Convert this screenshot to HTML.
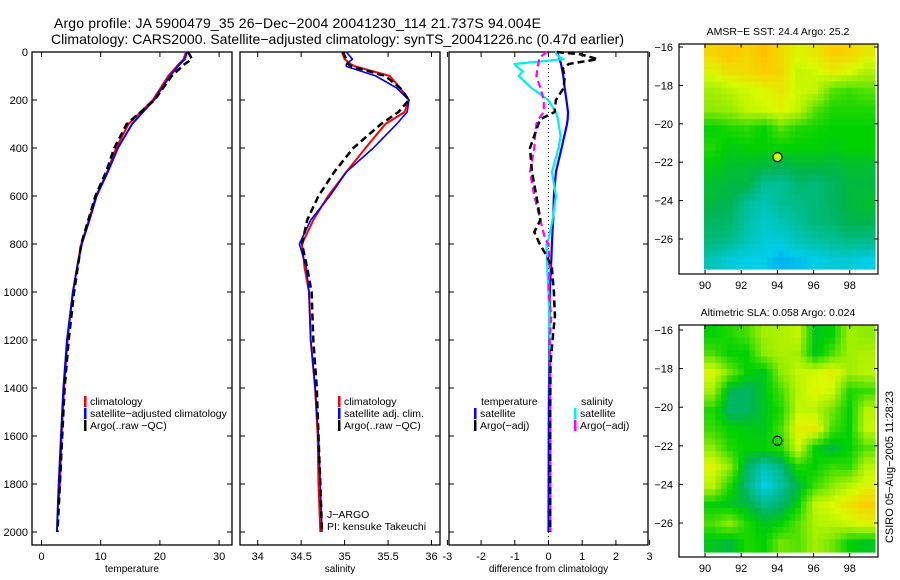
<!DOCTYPE html>
<html><head><meta charset="utf-8">
<style>
body{margin:0;background:#fff;}
svg{display:block;font-family:"Liberation Sans",sans-serif;}
</style></head>
<body>
<svg id="chart" width="900" height="580" viewBox="0 0 900 580">
<text x="54" y="28" font-size="14" textLength="487">Argo profile: JA 5900479_35 26−Dec−2004 20041230_114 21.737S 94.004E</text>
<text x="51" y="44" font-size="14" textLength="573">Climatology: CARS2000. Satellite−adjusted climatology: synTS_20041226.nc (0.47d earlier)</text>
<g id="panels"></g>
<g id="maps"></g>
<text transform="translate(893,467) rotate(-90)" font-size="11" text-anchor="middle">CSIRO 05−Aug−2005 11:28:23</text>
</svg>
<script>
// ---------- profile data ----------
const depthTicks=[0,200,400,600,800,1000,1200,1400,1600,1800,2000];
const tempTicks=[0,10,20,30];
const salTicks=[34,34.5,35,35.5,36];
const salTickLabels=["34","34.5","35","35.5","36"];
const diffTicks=[-3,-2,-1,0,1,2,3];

const tDepth=[0,30,50,100,200,300,400,500,600,700,800,900,1000,1200,1400,1600,1800,1870];
const tClim=[24.4,24.0,23.2,21.4,18.8,14.7,12.6,11.1,9.2,8.0,6.7,6.0,5.3,4.4,3.8,3.4,3.1,2.9];
const tSatDepth=[0,30,50,100,200,300,400,500,600,700,800,900,1000,1200,1400,1600,1800,2000];
const tSat=[24.6,24.2,23.4,21.7,19.0,15.3,12.9,11.2,9.3,8.1,6.8,6.0,5.3,4.3,3.7,3.3,2.9,2.6];
const tArgo=[24.8,25.4,24.2,22.0,19.1,14.4,12.3,10.9,9.1,7.9,6.7,6.1,5.5,4.6,3.9,3.5,3.1,2.7];

const sDepth=[0,30,50,60,100,150,200,250,300,400,500,600,700,800,900,1000,1200,1400,1600,1800,2000];
const sClim=[34.97,35.0,35.07,35.12,35.52,35.64,35.74,35.69,35.47,35.24,35.02,34.81,34.64,34.51,34.54,34.59,34.61,34.66,34.69,34.70,34.72];
const sSat=[35.02,35.09,35.02,35.02,35.36,35.60,35.74,35.72,35.60,35.33,35.02,34.83,34.61,34.48,34.56,34.59,34.61,34.66,34.70,34.72,34.74];
const sArgo=[34.98,35.02,35.04,35.08,35.47,35.64,35.74,35.62,35.42,35.10,34.88,34.70,34.57,34.51,34.57,34.62,34.64,34.68,34.70,34.72,34.74];

const dtDepth=[0,10,30,50,70,100,150,200,250,280,300,400,500,600,700,750,800,850,900,1000,1100,1200,1300,1500,2000];
const dtSat=[0.22,0.28,0.33,0.37,0.40,0.44,0.48,0.53,0.58,0.57,0.55,0.39,0.22,0.16,0.14,0.12,0.10,0.09,0.07,0.04,0.03,0.02,0.02,0.01,0.0];
const dtArgo=[0.25,0.96,1.46,0.60,0.42,0.48,0.45,0.22,0.18,-0.24,-0.30,-0.55,-0.49,-0.36,-0.24,-0.42,-0.26,-0.05,0.10,0.16,0.19,0.12,0.06,0.05,0.05];
const dsDepth=[0,20,30,50,60,80,100,150,200,250,280,300,350,400,500,600,700,780,800,900,1000,1100,1200,1500,2000];
const dsSat=[0.2,0.3,0.45,-1.01,-0.95,-0.76,-0.88,-0.5,-0.01,0.22,0.28,0.30,0.36,0.30,0.10,0.22,0.12,0.0,-0.06,-0.04,0.0,0.02,0.03,0.05,0.05];
const dsArgo=[-0.05,-0.24,-0.28,-0.30,-0.32,-0.34,-0.36,-0.24,-0.14,-0.14,-0.30,-0.36,-0.40,-0.42,-0.55,-0.42,-0.24,-0.10,0.0,0.04,0.0,0.08,0.04,0.05,0.05];

// ---------- map data (colour index 0..5) ----------
const sstGrid=[
[4.3,4.5,4.3,4.6,4.2,3.8,4.0,4.4,4.3,4.0],
[3.8,4.1,4.2,4.4,4.3,3.5,3.6,3.9,3.7,3.3],
[3.2,3.4,3.6,3.8,4.0,3.6,3.5,2.6,2.4,2.6],
[3.0,3.1,3.5,3.6,3.8,3.5,2.6,2.2,2.2,2.2],
[2.0,2.2,2.3,2.0,2.6,2.2,2.1,2.0,2.0,2.0],
[2.2,1.9,2.0,2.0,2.0,2.0,2.0,1.9,2.0,2.0],
[1.9,1.7,1.7,1.6,1.5,1.6,1.6,1.6,1.7,1.7],
[1.7,1.6,1.6,1.0,1.0,1.3,1.2,1.4,1.6,1.6],
[1.6,1.5,1.0,0.8,1.0,1.1,1.2,1.4,1.6,1.7],
[1.4,1.3,0.9,0.7,0.8,1.0,1.2,1.3,1.5,1.5],
[1.2,1.1,0.8,0.6,0.6,0.8,0.9,1.0,1.1,1.1],
[0.8,0.6,0.5,0.5,0.3,0.4,0.5,0.6,0.6,0.5]];
const slaGrid=[
[2.0,2.2,2.5,3.2,3.3,3.5,1.8,2.0,3.2,3.0],
[2.5,2.0,2.0,3.0,3.3,3.2,1.8,2.5,3.2,3.3],
[3.8,2.8,2.0,1.8,3.0,3.5,3.6,3.9,3.2,3.4],
[3.2,1.5,1.4,1.8,2.5,3.4,3.8,3.6,2.2,2.4],
[2.2,1.3,1.4,1.8,2.2,3.5,3.4,2.8,2.0,3.4],
[2.4,2.0,1.9,1.8,2.5,3.9,4.0,2.5,2.0,3.5],
[3.0,2.2,2.0,2.0,2.2,3.6,2.0,1.6,2.0,2.6],
[3.8,3.0,1.4,0.8,1.2,2.2,2.0,2.4,2.3,3.4],
[3.4,2.2,1.2,0.5,0.9,1.6,2.4,3.0,3.4,3.8],
[2.0,1.8,1.6,1.1,1.3,2.0,3.5,3.7,4.1,4.4],
[2.5,3.0,2.2,1.8,2.0,2.6,3.3,3.4,3.6,3.8],
[1.8,1.6,2.2,2.0,2.8,2.6,3.2,2.8,2.0,1.8]];
const lonTicks=[90,92,94,96,98];
const latTicks=[-16,-18,-20,-22,-24,-26];
const floatLon=94.004, floatLat=-21.737;
const sstTitle="AMSR-E SST: 24.4 Argo: 25.2";
const slaTitle="Altimetric SLA: 0.058 Argo: 0.024";

const NS="http://www.w3.org/2000/svg";
function mk(tag,attrs,parent,text){const e=document.createElementNS(NS,tag);for(const k in attrs)e.setAttribute(k,attrs[k]);if(text!==undefined)e.textContent=text;parent.appendChild(e);return e;}

const yD=d=>52+d*0.24;
const panels=document.getElementById('panels');
function panel(name,x0,x1,xs,ticks,labels,title){
  const g=mk('g',{},panels);
  
  
  const fr=mk('rect',{x:x0,y:52,width:x1-x0,height:493,fill:'none',stroke:'#000','stroke-width':1.3},g);
  
  
  ticks.forEach((t,i)=>{
    const x=xs(t);
    mk('line',{x1:x,x2:x,y1:545,y2:540,stroke:'#000'},g);
    mk('line',{x1:x,x2:x,y1:52,y2:57,stroke:'#000'},g);
    const tl=mk('text',{x:x,y:560,'font-size':11,'text-anchor':'middle'},g,labels[i]);
    
    
  });
  depthTicks.forEach(d=>{
    mk('line',{x1:x0,x2:x0+5,y1:yD(d),y2:yD(d),stroke:'#000'},g);
    mk('line',{x1:x1,x2:x1-5,y1:yD(d),y2:yD(d),stroke:'#000'},g);
  });
  const at=mk('text',{x:(x0+x1)/2,y:572,'font-size':10,'text-anchor':'middle'},g,title);
  
  
  return g;
}
function line(g,xs,vals,depths,color,w,dash,name){
  const pts=vals.map((v,i)=>xs(v).toFixed(1)+','+yD(depths[i]).toFixed(1)).join(' ');
  const p=mk('polyline',{points:pts,fill:'none',stroke:color,'stroke-width':w,'stroke-linejoin':'round'},g);
  if(dash)p.setAttribute('stroke-dasharray',dash);
  
  
}
function legend(g,x,y,color,label,name){
  mk('rect',{x:x,y:y-9,width:2.5,height:11,fill:color},g);
  const t=mk('text',{x:x+6,y:y,'font-size':10.5},g,label);
  
  
}
const yl=mk('g',{},panels);


depthTicks.forEach(d=>{
  const t=mk('text',{x:28,y:yD(d)+4,'font-size':11,'text-anchor':'end'},yl,String(d));
  
  
});

const xT=v=>41.5+v*5.92;
const gT=panel('temperature',32,232,xT,tempTicks,tempTicks.map(String),'temperature');
line(gT,xT,tClim,tDepth,'#ff0000',2,null,'temp-climatology-line');
line(gT,xT,tSat,tSatDepth,'#0000ff',2,null,'temp-satellite-line');
line(gT,xT,tArgo,tSatDepth,'#000',2.5,'7,4','temp-argo-line');
legend(gT,84,405,'#ff0000','climatology','legend-climatology');
legend(gT,84,417,'#0000ff','satellite−adjusted climatology','legend-satellite');
legend(gT,84,429,'#000','Argo(..raw −QC)','legend-argo');

const xS=v=>257.7+(v-34)*86.9;
const gS=panel('salinity',240,440,xS,salTicks,salTickLabels,'salinity');
line(gS,xS,sClim,sDepth,'#ff0000',2,null,'sal-climatology-line');
line(gS,xS,sSat,sDepth,'#0000ff',1.6,null,'sal-satellite-line');
line(gS,xS,sArgo,sDepth,'#000',2.5,'7,4','sal-argo-line');
legend(gS,338,405,'#ff0000','climatology','legend-sal-climatology');
legend(gS,338,417,'#0000ff','satellite adj. clim.','legend-sal-satellite');
legend(gS,338,429,'#000','Argo(..raw −QC)','legend-sal-argo');
mk('text',{x:327,y:518,'font-size':10.5},gS,'J−ARGO');
mk('text',{x:327,y:530,'font-size':10.5},gS,'PI: kensuke Takeuchi');

const xD=v=>548.5+v*33.7;
const gD=panel('difference',449,648,xD,diffTicks,diffTicks.map(String),'difference from climatology');
mk('line',{x1:xD(0),x2:xD(0),y1:52,y2:545,stroke:'#000','stroke-dasharray':'1,3'},gD);
line(gD,xD,dtSat,dtDepth,'#0000ff',2.2,null,'diff-temp-satellite-line');
line(gD,xD,dsSat,dsDepth,'#00eeee',2.2,null,'diff-sal-satellite-line');
line(gD,xD,dsArgo,dsDepth,'#ff00ff',2.2,'7,4','diff-sal-argo-line');
line(gD,xD,dtArgo,dtDepth,'#000',2.5,'7,4','diff-temp-argo-line');
mk('text',{x:481,y:405,'font-size':10.5},gD,'temperature');
legend(gD,474,417,'#0000ff','satellite','legend-diff-temp-sat');
legend(gD,474,429,'#000','Argo(−adj)','legend-diff-temp-argo');
mk('text',{x:581,y:405,'font-size':10.5},gD,'salinity');
legend(gD,574,417,'#00eeee','satellite','legend-diff-sal-sat');
legend(gD,574,429,'#ff00ff','Argo(−adj)','legend-diff-sal-argo');

// ---------- maps ----------
const stops=[[0,[0,140,255]],[0.5,[0,205,230]],[1,[0,190,150]],[1.5,[0,180,80]],[2,[0,210,0]],[3,[140,235,0]],[3.7,[215,250,0]],[4.5,[255,200,0]],[5,[255,160,0]]];
function cmap(v){
  for(let i=1;i<stops.length;i++){if(v<=stops[i][0]){const a=stops[i-1],b=stops[i];const f=(v-a[0])/(b[0]-a[0]);return 'rgb('+a[1].map((c,k)=>Math.round(c+(b[1][k]-c)*f)).join(',')+')';}}
  return 'rgb(255,160,0)';
}
function sample(grid,r,c){
  const R=grid.length-1,C=grid[0].length-1;
  r=Math.max(0,Math.min(R,r));c=Math.max(0,Math.min(C,c));
  const r0=Math.floor(r),c0=Math.floor(c),r1=Math.min(R,r0+1),c1=Math.min(C,c0+1);
  const fr=r-r0,fc=c-c0;
  return grid[r0][c0]*(1-fr)*(1-fc)+grid[r0][c1]*(1-fr)*fc+grid[r1][c0]*fr*(1-fc)+grid[r1][c1]*fr*fc;
}
const maps=document.getElementById('maps');
function drawMap(name,grid,top,bottom,latTop,latPx,title){
  const g=mk('g',{},maps);
  
  
  const xL=lon=>705+(lon-90)*18.1;
  const yL=lat=>latTop+(-16-lat)*latPx;
  const ix0=704,ix1=875,iy0=top,iy1=bottom-5;
  const rows=grid.length,cols=grid[0].length;
  const up=3;
  const cw=(ix1-ix0)/(cols*up),ch=(iy1-iy0)/(rows*up);
  for(let r=0;r<rows*up;r++)for(let c=0;c<cols*up;c++){
    const v=sample(grid,(r+0.5)/up-0.5,(c+0.5)/up-0.5);
    const cell=mk('rect',{x:(ix0+c*cw).toFixed(1),y:(iy0+r*ch).toFixed(1),width:(cw+0.6).toFixed(1),height:(ch+0.6).toFixed(1),fill:cmap(v)},g);
    
    
  }
  const fr=mk('rect',{x:679,y:top,width:199,height:bottom-top,fill:'none',stroke:'#000','stroke-width':1.2},g);
  
  
  lonTicks.forEach(l=>{
    const x=xL(l);
    mk('line',{x1:x,x2:x,y1:bottom,y2:bottom-4,stroke:'#000'},g);
    mk('line',{x1:x,x2:x,y1:top,y2:top+4,stroke:'#000'},g);
    mk('text',{x:x,y:bottom+15,'font-size':11,'text-anchor':'middle'},g,String(l));
  });
  latTicks.forEach(l=>{
    const y=yL(l);
    mk('line',{x1:679,x2:683,y1:y,y2:y,stroke:'#000'},g);
    mk('line',{x1:878,x2:874,y1:y,y2:y,stroke:'#000'},g);
    mk('text',{x:673,y:y+4,'font-size':11,'text-anchor':'end'},g,String(l).replace('-','−'));
  });
  const t=mk('text',{x:778,y:top-9,'font-size':10.5,'text-anchor':'middle'},g,title.replace('AMSR-E','AMSR−E'));
  
  
  return {g,xL,yL};
}
const m1=drawMap('sst',sstGrid,44,274,47,19.2,sstTitle);
const c1=mk('circle',{cx:m1.xL(floatLon),cy:m1.yL(floatLat),r:4.5,fill:'#ccff00',stroke:'#000','stroke-width':1.2},m1.g);


const m2=drawMap('sla',slaGrid,325,557,330,19.3,slaTitle);
const c2=mk('circle',{cx:m2.xL(floatLon),cy:m2.yL(floatLat),r:4.5,fill:'none',stroke:'#000','stroke-width':1.2},m2.g);


</script>
</body></html>
